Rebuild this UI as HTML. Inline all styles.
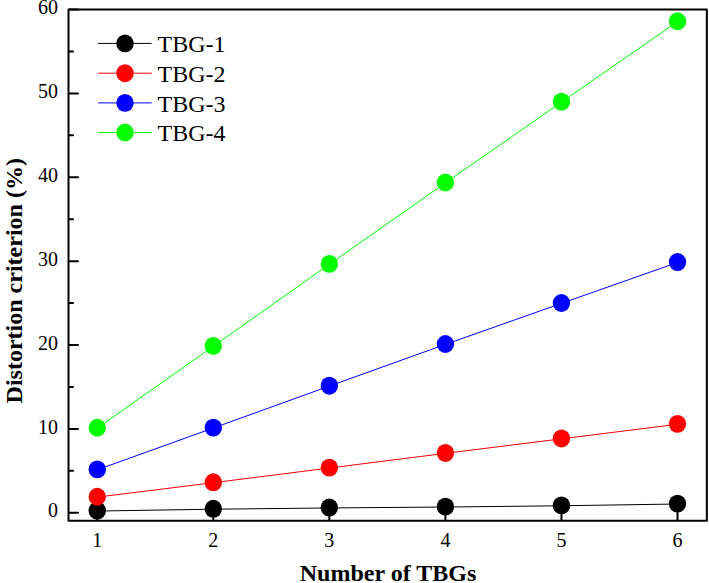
<!DOCTYPE html><html><head><meta charset="utf-8"><style>html,body{margin:0;padding:0;background:#fff;}svg{display:block;}</style></head><body>
<svg width="709" height="583" viewBox="0 0 709 583">
<rect width="709" height="583" fill="#fff"/>
<path d="M69.5 512.75H78 M69.5 428.88H78 M69.5 345.01H78 M69.5 261.14H78 M69.5 177.27H78 M69.5 93.40H78 M69.5 9.53H78 M69.5 470.81H73 M69.5 386.94H73 M69.5 303.07H73 M69.5 219.20H73 M69.5 135.33H73 M69.5 51.46H73 M97.25 519.8V512 M213.30 519.8V512 M329.35 519.8V512 M445.40 519.8V512 M561.45 519.8V512 M677.50 519.8V512" stroke="#000" stroke-width="2" stroke-linecap="round" fill="none"/>
<polyline points="97.25,510.65 213.30,508.81 329.35,507.55 445.40,506.63 561.45,505.37 677.50,503.61" fill="none" stroke="#000000" stroke-width="1.0" transform="translate(0 0.4)"/>
<ellipse cx="97.25" cy="510.65" rx="8.7" ry="8.95" fill="#000000"/>
<ellipse cx="213.30" cy="508.81" rx="8.7" ry="8.95" fill="#000000"/>
<ellipse cx="329.35" cy="507.55" rx="8.7" ry="8.95" fill="#000000"/>
<ellipse cx="445.40" cy="506.63" rx="8.7" ry="8.95" fill="#000000"/>
<ellipse cx="561.45" cy="505.37" rx="8.7" ry="8.95" fill="#000000"/>
<ellipse cx="677.50" cy="503.61" rx="8.7" ry="8.95" fill="#000000"/>
<polyline points="97.25,496.73 213.30,482.31 329.35,467.63 445.40,452.95 561.45,438.44 677.50,423.85" fill="none" stroke="#ff0000" stroke-width="1.0" transform="translate(0 0.4)"/>
<ellipse cx="97.25" cy="496.73" rx="8.7" ry="8.95" fill="#ff0000"/>
<ellipse cx="213.30" cy="482.31" rx="8.7" ry="8.95" fill="#ff0000"/>
<ellipse cx="329.35" cy="467.63" rx="8.7" ry="8.95" fill="#ff0000"/>
<ellipse cx="445.40" cy="452.95" rx="8.7" ry="8.95" fill="#ff0000"/>
<ellipse cx="561.45" cy="438.44" rx="8.7" ry="8.95" fill="#ff0000"/>
<ellipse cx="677.50" cy="423.85" rx="8.7" ry="8.95" fill="#ff0000"/>
<polyline points="97.25,469.39 213.30,427.62 329.35,385.69 445.40,344.00 561.45,302.99 677.50,262.06" fill="none" stroke="#0000ff" stroke-width="1.0" transform="translate(0 0.4)"/>
<ellipse cx="97.25" cy="469.39" rx="8.7" ry="8.95" fill="#0000ff"/>
<ellipse cx="213.30" cy="427.62" rx="8.7" ry="8.95" fill="#0000ff"/>
<ellipse cx="329.35" cy="385.69" rx="8.7" ry="8.95" fill="#0000ff"/>
<ellipse cx="445.40" cy="344.00" rx="8.7" ry="8.95" fill="#0000ff"/>
<ellipse cx="561.45" cy="302.99" rx="8.7" ry="8.95" fill="#0000ff"/>
<ellipse cx="677.50" cy="262.06" rx="8.7" ry="8.95" fill="#0000ff"/>
<polyline points="97.25,427.79 213.30,345.93 329.35,263.91 445.40,182.47 561.45,101.70 677.50,21.27" fill="none" stroke="#00ff00" stroke-width="1.0" transform="translate(0 0.4)"/>
<ellipse cx="97.25" cy="427.79" rx="8.7" ry="8.95" fill="#00ff00"/>
<ellipse cx="213.30" cy="345.93" rx="8.7" ry="8.95" fill="#00ff00"/>
<ellipse cx="329.35" cy="263.91" rx="8.7" ry="8.95" fill="#00ff00"/>
<ellipse cx="445.40" cy="182.47" rx="8.7" ry="8.95" fill="#00ff00"/>
<ellipse cx="561.45" cy="101.70" rx="8.7" ry="8.95" fill="#00ff00"/>
<ellipse cx="677.50" cy="21.27" rx="8.7" ry="8.95" fill="#00ff00"/>
<rect x="68.5" y="9.6" width="638.35" height="511.20" fill="none" stroke="#000" stroke-width="2" stroke-linejoin="round"/>
<g font-family="Liberation Serif" font-size="20" fill="#000" text-anchor="end">
<text x="58" y="517.45">0</text>
<text x="58" y="433.58">10</text>
<text x="58" y="349.71">20</text>
<text x="58" y="265.84">30</text>
<text x="58" y="181.97">40</text>
<text x="58" y="98.10">50</text>
<text x="58" y="14.23">60</text>
</g>
<g font-family="Liberation Serif" font-size="20" fill="#000" text-anchor="middle">
<text x="97.25" y="546.5">1</text>
<text x="213.30" y="546.5">2</text>
<text x="329.35" y="546.5">3</text>
<text x="445.40" y="546.5">4</text>
<text x="561.45" y="546.5">5</text>
<text x="677.50" y="546.5">6</text>
</g>
<g font-family="Liberation Serif" font-size="24" fill="#000">
<line x1="98.1" y1="43.4" x2="151.7" y2="43.4" stroke="#000000" stroke-width="1.0"/>
<ellipse cx="125" cy="43.4" rx="8.7" ry="8.95" fill="#000000"/>
<text x="157.6" y="52.00">TBG-1</text>
<line x1="98.1" y1="73.2" x2="151.7" y2="73.2" stroke="#ff0000" stroke-width="1.0"/>
<ellipse cx="125" cy="73.2" rx="8.7" ry="8.95" fill="#ff0000"/>
<text x="157.6" y="81.80">TBG-2</text>
<line x1="98.1" y1="102.9" x2="151.7" y2="102.9" stroke="#0000ff" stroke-width="1.0"/>
<ellipse cx="125" cy="102.9" rx="8.7" ry="8.95" fill="#0000ff"/>
<text x="157.6" y="111.50">TBG-3</text>
<line x1="98.1" y1="132.5" x2="151.7" y2="132.5" stroke="#00ff00" stroke-width="1.0"/>
<ellipse cx="125" cy="132.5" rx="8.7" ry="8.95" fill="#00ff00"/>
<text x="157.6" y="141.10">TBG-4</text>
</g>
<text x="388" y="581.2" font-family="Liberation Serif" font-weight="bold" font-size="24" text-anchor="middle">Number of TBGs</text>
<text transform="translate(21.6 280.75) rotate(-90)" x="0" y="0" font-family="Liberation Serif" font-weight="bold" font-size="24" text-anchor="middle">Distortion criterion (%)</text>
</svg></body></html>
